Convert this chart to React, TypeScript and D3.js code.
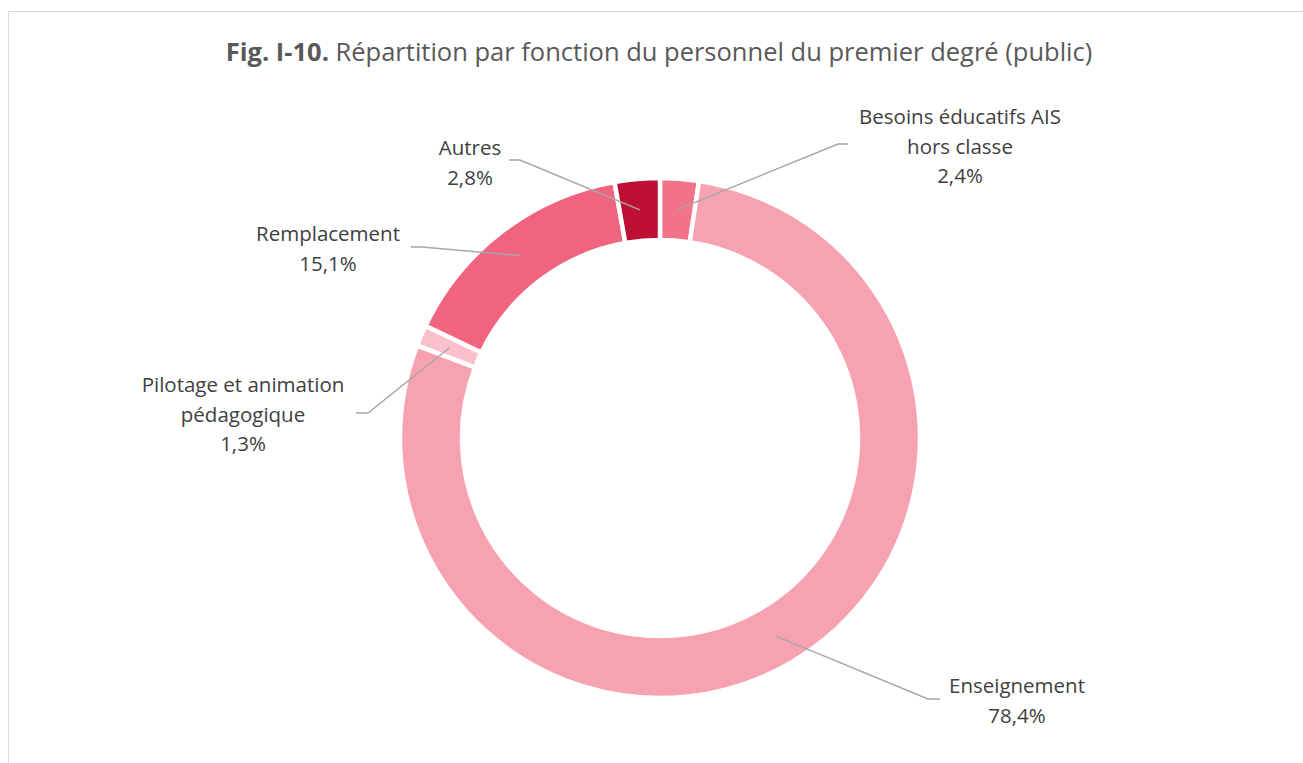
import React from "react";
import * as d3 from "d3";

const categories = [
  "Besoins éducatifs AIS hors classe",
  "Enseignement",
  "Pilotage et animation pédagogique",
  "Remplacement",
  "Autres",
];
const values = [2.4, 78.4, 1.3, 15.1, 2.8];
const valueLabels = ["2,4%", "78,4%", "1,3%", "15,1%", "2,8%"];
const labelLines = [
  ["Besoins éducatifs AIS", "hors classe"],
  ["Enseignement"],
  ["Pilotage et animation", "pédagogique"],
  ["Remplacement"],
  ["Autres"],
];
const colors = ["#F2728A", "#F7A2B0", "#F9C0CB", "#F0647F", "#BE0F34"];

// layout: label text center and leader elbow points
const layout = [
  { tx: 960, ty: 124, elbow: [838, 144], end: [848, 144] },
  { tx: 1017, ty: 693, elbow: [928, 699], end: [940, 699] },
  { tx: 243, ty: 392, elbow: [368, 413], end: [356, 413] },
  { tx: 328, ty: 241, elbow: [422, 247], end: [411, 247] },
  { tx: 470, ty: 155, elbow: [520, 160], end: [509, 160] },
];

const W = 1303;
const H = 763;
const cx = 660;
const cy = 438;
const outerR = 260;
const innerR = 198;
const FONT = "'Open Sans', Lato, sans-serif";

export default function App() {
  const pie = d3
    .pie<number>()
    .sort(null)
    .value((d) => d);
  const arcs = pie(values);
  const arc = d3.arc<d3.PieArcDatum<number>>().innerRadius(innerR).outerRadius(outerR);
  const midR = (innerR + outerR) / 2;
  const lineH = 29.5;

  return (
    <svg
      width={W}
      height={H}
      style={{ position: "absolute", left: 0, top: 0, background: "#fff" }}
      fontFamily={FONT}
    >
      <rect x={8.5} y={11.5} width={1400} height={900} fill="#fff" stroke="#d9d9d9" strokeWidth={1} />
      <text x={659} y={61} textAnchor="middle" fontSize={25.5} fill="#595959">
        <tspan fontWeight="bold">Fig. I-10.</tspan>
        <tspan> Répartition par fonction du personnel du premier degré (public)</tspan>
      </text>
      <g transform={`translate(${cx},${cy})`}>
        {arcs.map((a, i) => (
          <path key={categories[i]} d={arc(a) || ""} fill={colors[i]} stroke="#fff" strokeWidth={4.5} />
        ))}
      </g>
      {arcs.map((a, i) => {
        const mid = (a.startAngle + a.endAngle) / 2;
        const px = cx + midR * Math.sin(mid);
        const py = cy - midR * Math.cos(mid);
        const L = layout[i];
        return (
          <polyline
            key={"l" + i}
            points={`${px},${py} ${L.elbow[0]},${L.elbow[1]} ${L.end[0]},${L.end[1]}`}
            fill="none"
            stroke="#a6a6a6"
            strokeWidth={1.5}
          />
        );
      })}
      {labelLines.map((lines, i) => {
        const L = layout[i];
        const all = [...lines, valueLabels[i]];
        return (
          <text key={"t" + i} textAnchor="middle" fontSize={20.5} fill="#404040">
            {all.map((s, j) => (
              <tspan key={j} x={L.tx} y={L.ty + j * lineH}>
                {s}
              </tspan>
            ))}
          </text>
        );
      })}
    </svg>
  );
}
